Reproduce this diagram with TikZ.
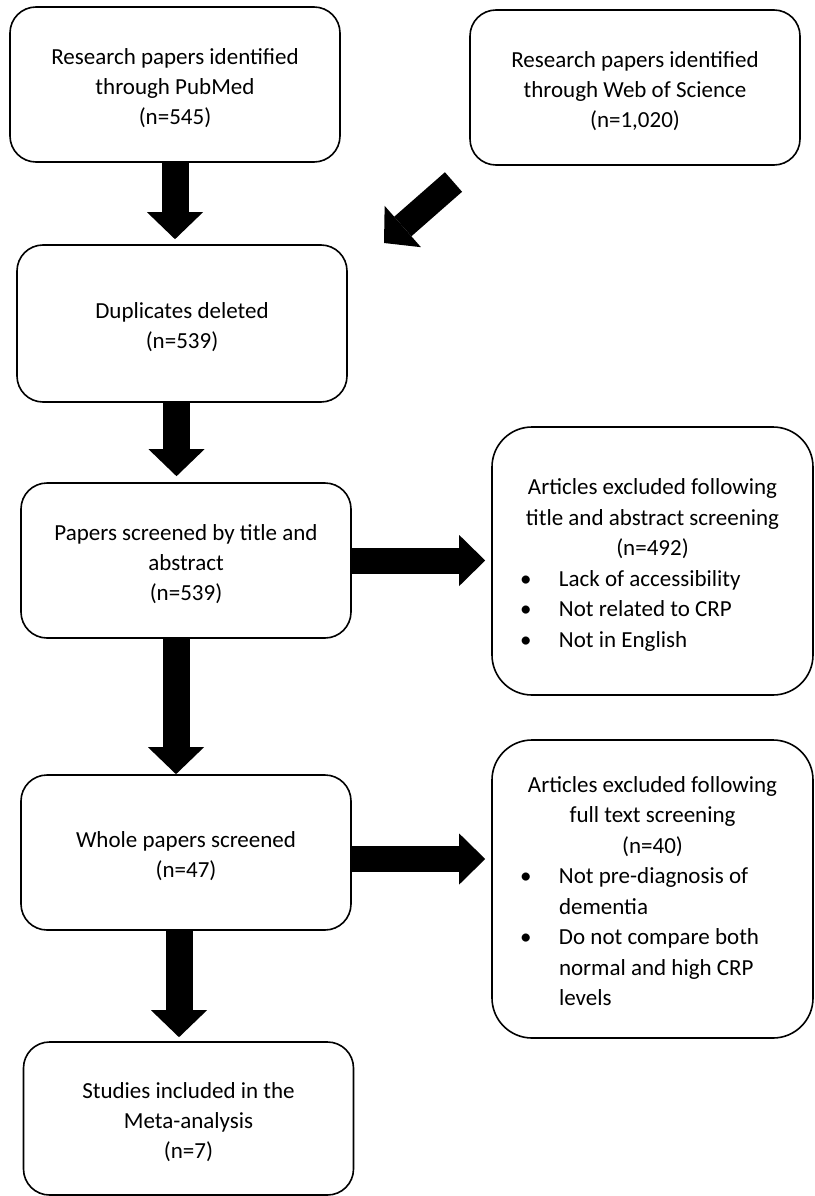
\documentclass[tikz,border=0pt]{standalone}
\usepackage{fontspec}
\setmainfont{Carlito}
\usetikzlibrary{arrows.meta,calc}
% block of centred lines, moved 4pt down inside its node
\newcommand{\blk}[1]{\raisebox{-4pt}[\height][\depth]{\begin{tabular}{@{}c@{}}#1\end{tabular}}}
% bullet line and continuation line, 290pt wide
\newcommand{\bline}[1]{\makebox[290pt][l]{\hspace{12.5pt}\makebox[39pt][l]{\textbullet}#1}}
\newcommand{\contline}[1]{\makebox[290pt][l]{\hspace{51.5pt}#1}}
\begin{document}
\begin{tikzpicture}[x=1pt,y=-1pt,
  box/.style={draw, line width=1.6pt, rounded corners=26pt,
    minimum width=330pt, minimum height=155pt, inner sep=0pt,
    font=\fontsize{23}{30}\selectfont},
  bigbox/.style={box, rounded corners=40pt, minimum width=321pt,
    font=\fontsize{23}{30.5}\selectfont},
  fat/.style={line width=27pt, -{Triangle[length=27pt,width=56pt,line width=0pt]}},
  fath/.style={line width=26pt, -{Triangle[length=26pt,width=51pt,line width=0pt]}},
  fatd/.style={line width=26pt, -{Triangle[length=25pt,width=55pt,line width=0pt]}},
]
\useasboundingbox (0,0) rectangle (814,1196);

\node[box] (b1) at (175,84.5) {\blk{Research papers identified\\through PubMed\\(n=545)}};
\node[box] (b2) at (635,87.5) {\blk{Research papers identified\\through Web of Science\\(n=1,020)}};
\node[box, minimum height=157pt] (b3) at (182,323.5) {\blk{Duplicates deleted\\(n=539)}};
\node[box] (b4) at (186,560.5) {\blk{Papers screened by title and\\abstract\\(n=539)}};
\node[bigbox, minimum height=268pt] (b5) at (652.5,561) {\blk{Articles excluded following\\title and abstract screening\\(n=492)\\
\bline{Lack of accessibility}\\
\bline{Not related to CRP}\\
\bline{Not in English}}};
\node[box] (b6) at (186,852.5) {\blk{Whole papers screened\\(n=47)}};
\node[bigbox, minimum height=298pt] (b7) at (652.5,889) {\blk{Articles excluded following\\full text screening\\(n=40)\\
\bline{Not pre-diagnosis of}\\
\contline{dementia}\\
\bline{Do not compare both}\\
\contline{normal and high CRP}\\
\contline{levels}}};
\node[box, minimum height=153pt] (b8) at (188.5,1118.5) {\blk{Studies included in the\\Meta-analysis\\(n=7)}};

\coordinate (dtail) at (453.5,182);
\coordinate (dtip) at (384,243);

\draw[fat, shorten >=5pt] (b1.south) -- (b1.south |- b3.north);
\draw[fatd] (dtail) -- (dtip);
\draw[fat, shorten >=6pt] ([xshift=-5.5pt]b3.south) -- ([xshift=-5.5pt]b3.south |- b4.north);
\draw[fath, shorten >=6pt] (b4.east) -- (b4.east -| b5.west);
\draw[fat] ([xshift=-10pt]b4.south) -- ([xshift=-10pt]b4.south |- b6.north);
\draw[fath, shorten >=6pt] ([yshift=-6.5pt]b6.east) -- ([yshift=-6.5pt]b6.east -| b7.west);
\draw[fat, shorten >=4pt] ([xshift=-7pt]b6.south) -- ([xshift=-7pt]b6.south |- b8.north);
\end{tikzpicture}
\end{document}
